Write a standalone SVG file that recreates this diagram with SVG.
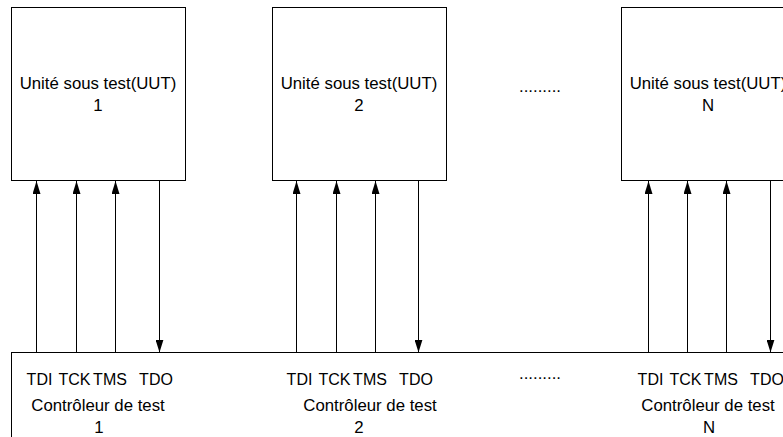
<svg xmlns="http://www.w3.org/2000/svg" width="783" height="437" viewBox="0 0 783 437">
<style>
.box{fill:#fff;stroke:#000;stroke-width:1}
.ln{stroke:#000;stroke-width:1;fill:none}
.t{font-family:"Liberation Sans",Arial,sans-serif;font-size:16.8px;fill:#000;text-anchor:middle}
.s{font-size:16px}
</style>
<defs>
<marker id="a" viewBox="0 0 13 8" refX="13" refY="4" markerWidth="13" markerHeight="8" markerUnits="userSpaceOnUse" orient="auto">
<path d="M0,0 L13,4 L0,8 Z" fill="#000"/>
</marker>
</defs>
<rect width="783" height="437" fill="#fff"/>
<g id="controleur">
<rect class="box" x="11.5" y="352.5" width="790" height="100"/>
</g>
<g id="uut1">
<rect class="box" x="11.5" y="7.5" width="174" height="173"/>
<text class="t" x="98" y="89">Unité sous test(UUT)</text>
<text class="t" x="98" y="111">1</text>
</g>
<g id="uut2">
<rect class="box" x="272.5" y="7.5" width="174" height="173"/>
<text class="t" x="359" y="89">Unité sous test(UUT)</text>
<text class="t" x="359" y="111">2</text>
</g>
<g id="uutN">
<rect class="box" x="621.5" y="7.5" width="174" height="173"/>
<text class="t" x="708" y="89">Unité sous test(UUT)</text>
<text class="t" x="708" y="111">N</text>
</g>
<g id="dots">
<text class="t" x="540" y="92">.........</text>
<text class="t" x="540" y="379">.........</text>
</g>
<g id="connectors">
<line class="ln" x1="36.5" y1="352.5" x2="36.5" y2="181" marker-end="url(#a)"/>
<line class="ln" x1="76.5" y1="352.5" x2="76.5" y2="181" marker-end="url(#a)"/>
<line class="ln" x1="115.5" y1="352.5" x2="115.5" y2="181" marker-end="url(#a)"/>
<line class="ln" x1="159.5" y1="180.5" x2="159.5" y2="352.5" marker-end="url(#a)"/>
<line class="ln" x1="296.5" y1="352.5" x2="296.5" y2="181" marker-end="url(#a)"/>
<line class="ln" x1="336.5" y1="352.5" x2="336.5" y2="181" marker-end="url(#a)"/>
<line class="ln" x1="375.5" y1="352.5" x2="375.5" y2="181" marker-end="url(#a)"/>
<line class="ln" x1="418.5" y1="180.5" x2="418.5" y2="352.5" marker-end="url(#a)"/>
<line class="ln" x1="648.5" y1="352.5" x2="648.5" y2="181" marker-end="url(#a)"/>
<line class="ln" x1="687.5" y1="352.5" x2="687.5" y2="181" marker-end="url(#a)"/>
<line class="ln" x1="726.5" y1="352.5" x2="726.5" y2="181" marker-end="url(#a)"/>
<line class="ln" x1="770.5" y1="180.5" x2="770.5" y2="352.5" marker-end="url(#a)"/>
</g>
<g id="labels">
<text class="t s" x="39.5" y="385">TDI</text>
<text class="t s" x="74.5" y="385">TCK</text>
<text class="t s" x="110" y="385">TMS</text>
<text class="t s" x="156" y="385">TDO</text>
<text class="t" x="98" y="411">Contrôleur de test</text>
<text class="t" x="99" y="433">1</text>
<text class="t s" x="299.5" y="385">TDI</text>
<text class="t s" x="334.5" y="385">TCK</text>
<text class="t s" x="370" y="385">TMS</text>
<text class="t s" x="416" y="385">TDO</text>
<text class="t" x="370" y="411">Contrôleur de test</text>
<text class="t" x="359" y="433">2</text>
<text class="t s" x="650.5" y="385">TDI</text>
<text class="t s" x="685.5" y="385">TCK</text>
<text class="t s" x="721" y="385">TMS</text>
<text class="t s" x="767" y="385">TDO</text>
<text class="t" x="708" y="411">Contrôleur de test</text>
<text class="t" x="709" y="433">N</text>
</g>
</svg>
